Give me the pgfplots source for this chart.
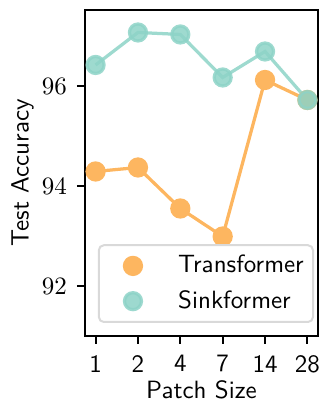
\documentclass[border=0pt]{standalone}
\usepackage{pgfplots}
\pgfplotsset{compat=1.18}
\definecolor{corange}{RGB}{253,182,96}
\definecolor{cteal}{RGB}{141,211,199}
\begin{document}
\begin{tikzpicture}
\begin{axis}[
  scale only axis,
  width=93.2pt, height=130.4pt,
  xmin=-0.25, xmax=5.25,
  ymin=91, ymax=97.52,
  xtick={0,1,2,3,4,5},
  xticklabels={1,2,4,7,14,28},
  ytick={92,94,96},
  tick align=outside,
  major tick length=3.2pt,
  xtick pos=bottom, ytick pos=left,
  axis line style={line width=1pt},
  every tick/.style={black, line width=0.8pt},
  font=\sffamily,
  x tick label style={font=\sffamily, yshift=-1pt},
  y tick label style={xshift=-0.5pt},
  xlabel={Patch Size},
  ylabel={Test Accuracy},
  x label style={at={(axis description cs:0.5,0)}, anchor=center, yshift=-21.6pt},
  y label style={at={([xshift=-25pt]axis description cs:0,0.5)}, anchor=center},
  legend style={at={(rel axis cs:1,0)}, anchor=south east, xshift=-1.6pt, yshift=5.2pt,
    draw=black!15, line width=0.8pt, rounded corners=2pt, inner xsep=4pt, inner ysep=2pt,
    row sep=1.5pt, font=\sffamily},
  legend cell align=left,
  legend image code/.code={\path (0pt,0pt); \path[#1] plot coordinates {(9pt,0pt)};},
  /tikz/every even column/.append style={column sep=0pt},
  legend style={nodes={inner xsep=3.3pt}},
]
\addplot[color=corange, line width=1.3pt, mark=*, mark size=3.4pt, mark options={fill=corange, draw=none}]
  coordinates {(0,94.29) (1,94.37) (2,93.55) (3,92.99) (4,96.12) (5,95.72)};
\addlegendentry{\hspace{11.4pt}Transformer\kern-3.6pt}
\addplot[color=cteal, opacity=0.85, line width=1.3pt, mark=*, mark size=3.4pt, mark options={fill=cteal, draw=none}]
  coordinates {(0,96.42) (1,97.07) (2,97.03) (3,96.17) (4,96.69) (5,95.72)};
\addlegendentry{\hspace{11.4pt}Sinkformer\kern-3.6pt}
\end{axis}
\pgfresetboundingbox
\path (current axis.south west) ++(-34pt,-27.6pt) rectangle ++(128.8pt,162pt);
\end{tikzpicture}
\end{document}
